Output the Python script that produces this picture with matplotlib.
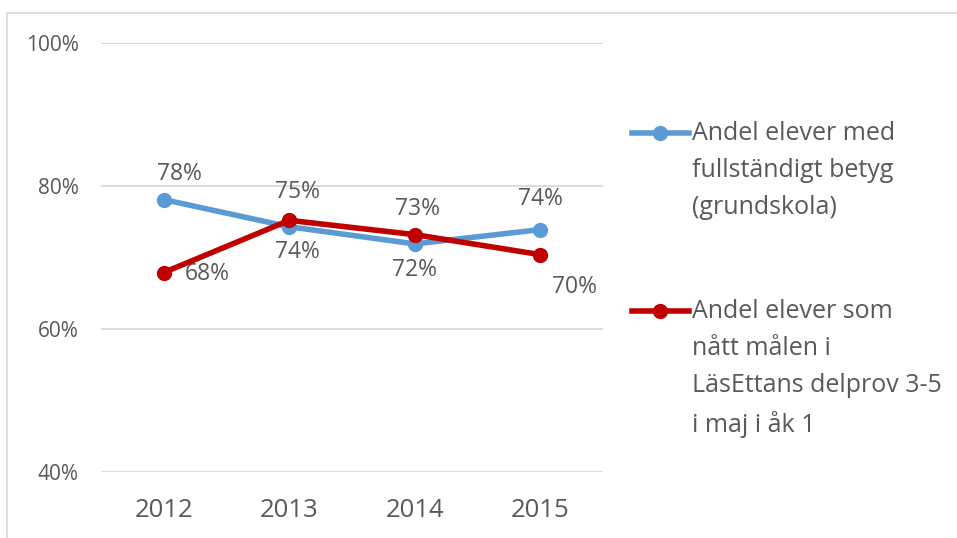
import matplotlib
matplotlib.use("Agg")
import matplotlib.pyplot as plt
from matplotlib.lines import Line2D
from matplotlib.patches import Rectangle

plt.rcParams['font.family'] = ['Open Sans', 'DejaVu Sans']

years = ['2012', '2013', '2014', '2015']
betyg = [0.781, 0.743, 0.719, 0.739]
lasettan = [0.679, 0.752, 0.732, 0.704]
yticks = [0.4, 0.6, 0.8, 1.0]
label_betyg = 'Andel elever med\nfullständigt betyg\n(grundskola)'
label_lasettan = 'Andel elever som\nnått målen i\nLäsEttans delprov 3-5\ni maj i åk 1'

blue = '#5B9BD5'
red = '#C00000'
txt = '#595959'
grid = '#D9D9D9'

W, H = 957, 538
fig = plt.figure(figsize=(W / 100, H / 100), dpi=100)


def fx(x):
    return x / W


def fy(y):
    return 1 - y / H


# chart frame (cut off at the right and bottom)
fig.add_artist(Rectangle((fx(7), fy(560)), fx(1100), (560 - 13) / H,
                         transform=fig.transFigure, fill=False,
                         edgecolor=grid, lw=1.2))

ax = fig.add_axes([fx(101), fy(472), fx(603 - 101), (472 - 43) / H])
x = range(len(years))
ax.plot(x, betyg, color=blue, lw=4, marker='o', ms=10, solid_capstyle='round', zorder=3)
ax.plot(x, lasettan, color=red, lw=4, marker='o', ms=10, solid_capstyle='round', zorder=4)

# data labels, offsets in pixels
off_b = [(16, 26), (8, -25), (0, -26), (0, 31)]
off_r = [(44, -1), (8, 28), (3, 26), (34, -32)]
for vals, offs in [(betyg, off_b), (lasettan, off_r)]:
    for i, v in enumerate(vals):
        ax.annotate(f'{v * 100:.0f}%', (i, v), xytext=offs[i], textcoords='offset pixels',
                    ha='center', va='center', fontsize=16.5, color=txt)

ax.set_xlim(-0.5, 3.5)
ax.set_ylim(0.4, 1.0)
ax.set_yticks(yticks)
ax.set_yticklabels([f'{t * 100:.0f}%' for t in yticks])
ax.set_xticks(list(x))
ax.set_xticklabels(years)
ax.tick_params(axis='y', length=0, pad=16, labelsize=15, labelcolor=txt)
ax.tick_params(axis='x', length=0, pad=19, labelsize=18.5, labelcolor=txt)
ax.grid(axis='y', color=grid, lw=1.3)
ax.set_axisbelow(True)
for s in ax.spines.values():
    s.set_visible(False)

# legend
for col, lab, yy in [(blue, label_betyg, 133), (red, label_lasettan, 311)]:
    fig.add_artist(Line2D([fx(632), fx(689)], [fy(yy), fy(yy)], color=col, lw=4,
                          transform=fig.transFigure))
    fig.add_artist(Line2D([fx(660)], [fy(yy)], color=col, marker='o', ms=10,
                          transform=fig.transFigure))
    fig.text(fx(692), fy(yy - 12), lab, ha='left', va='top', fontsize=18,
             color=txt, linespacing=1.62)

fig.savefig('out.png', dpi=100)
